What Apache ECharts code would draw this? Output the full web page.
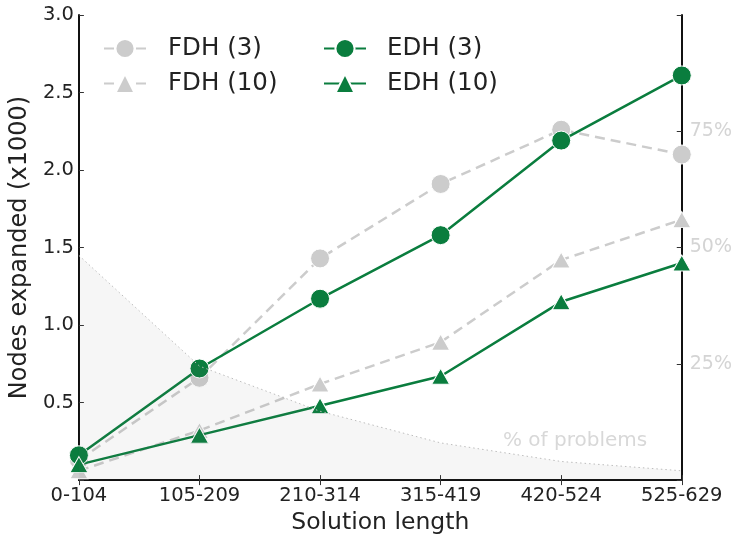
<!DOCTYPE html>
<html>
<head>
<meta charset="utf-8">
<script src="https://cdn.jsdelivr.net/npm/echarts@6/dist/echarts.min.js"></script>
<style>html,body{margin:0;padding:0;background:#fff;}#c{width:735px;height:540px;}</style>
</head>
<body>
<div id="c"></div>
<script>
const categories = ['0-104', '105-209', '210-314', '315-419', '420-524', '525-629'];
const fdh3 = [0.13, 0.66, 1.43, 1.91, 2.26, 2.10];
const fdh10 = [0.06, 0.32, 0.62, 0.89, 1.42, 1.68];
const edh3 = [0.16, 0.72, 1.17, 1.58, 2.19, 2.61];
const edh10 = [0.10, 0.29, 0.48, 0.67, 1.15, 1.40];
const pctProblems = [48.3, 24.5, 14.8, 8.0, 4.0, 2.0];
const leftTicks = ['0.5', '1.0', '1.5', '2.0', '2.5', '3.0'];
const rightTicks = ['25%', '50%', '75%'];

const FONT = 'DejaVu Sans';
const GREEN = '#0a7d3e';
const GRAY = '#cccccc';
const AX = '#111';

const chart = echarts.init(document.getElementById('c'), null, {renderer: 'canvas'});

const lineSeries = (name, data, color, dashed, symbol, size, z) => ({
  name, type: 'line', data, xAxisIndex: 0, yAxisIndex: 0,
  symbol, symbolSize: size, z,
  lineStyle: {color, width: 2.5, type: dashed ? [10, 6] : 'solid'},
  itemStyle: {color, borderColor: '#fff', borderWidth: 1},
  emphasis: {disabled: true},
  animation: false
});

const legendCommon = {
  orient: 'vertical', top: 31, itemWidth: 42, itemHeight: 24, itemGap: 10,
  selectedMode: false
};

const option = {
  animation: false,
  textStyle: {fontFamily: FONT},
  grid: {left: 78, right: 52, top: 15, bottom: 53, containLabel: false},
  legend: [
    Object.assign({}, legendCommon, {
      data: ['FDH (3)', 'FDH (10)'], left: 98,
      textStyle: {fontFamily: FONT, fontSize: 24.5, color: '#222', padding: [0, 0, 0, 17]}
    }),
    Object.assign({}, legendCommon, {
      data: ['EDH (3)', 'EDH (10)'], left: 318,
      textStyle: {fontFamily: FONT, fontSize: 24.5, color: '#222', padding: [0, 0, 0, 16]}
    })
  ],
  xAxis: [
    {
      type: 'category', data: categories, boundaryGap: false, position: 'bottom',
      name: 'Solution length', nameLocation: 'middle', nameGap: 22,
      nameTextStyle: {fontFamily: FONT, fontSize: 23.5, color: '#222'},
      axisLine: {show: true, lineStyle: {color: AX, width: 2}},
      axisTick: {show: true, inside: true, length: 5, lineStyle: {color: '#333', width: 1}},
      axisLabel: {fontFamily: FONT, fontSize: 19.5, color: '#222', margin: 6},
      splitLine: {show: false}
    },
    {
      type: 'category', data: categories, boundaryGap: false, position: 'top',
      axisLine: {show: true, lineStyle: {color: AX, width: 2}},
      axisTick: {show: true, inside: true, length: 5, lineStyle: {color: '#333', width: 1}},
      axisLabel: {show: false},
      splitLine: {show: false}
    }
  ],
  yAxis: [
    {
      type: 'value', min: 0, max: 3, interval: 0.5, position: 'left',
      name: 'Nodes expanded (x1000)', nameLocation: 'middle', nameGap: 39,
      nameTextStyle: {fontFamily: FONT, fontSize: 24, color: '#222'},
      axisLine: {show: true, lineStyle: {color: AX, width: 2}},
      axisTick: {show: true, inside: true, length: 5, lineStyle: {color: '#333', width: 1}},
      axisLabel: {
        fontFamily: FONT, fontSize: 19.5, color: '#222', margin: 5,
        formatter: v => { const s = v.toFixed(1); return leftTicks.includes(s) ? s : ''; }
      },
      splitLine: {show: false}
    },
    {
      type: 'value', min: 0, max: 100, interval: 25, position: 'right',
      axisLine: {show: true, lineStyle: {color: AX, width: 2}},
      axisTick: {show: true, inside: true, length: 5, lineStyle: {color: '#333', width: 1}},
      axisLabel: {
        fontFamily: FONT, fontSize: 19, color: '#d4d4d4', margin: 8,
        formatter: v => { const s = v + '%'; return rightTicks.includes(s) ? s : ''; }
      },
      splitLine: {show: false}
    }
  ],
  graphic: [
    {
      type: 'text', left: 503, top: 431, z: 5, silent: true,
      style: {text: '% of problems', fontFamily: FONT, fontSize: 20, fill: '#d8d8d8'}
    }
  ],
  series: [
    lineSeries('FDH (3)', fdh3, GRAY, true, 'circle', 19, 2),
    lineSeries('FDH (10)', fdh10, GRAY, true, 'triangle', [18, 16], 2),
    lineSeries('EDH (3)', edh3, GREEN, false, 'circle', 19, 3),
    lineSeries('EDH (10)', edh10, GREEN, false, 'triangle', [18, 16], 3),
    {
      name: '% of problems', type: 'line', data: pctProblems, xAxisIndex: 0, yAxisIndex: 1,
      symbol: 'none', z: 4, silent: true,
      lineStyle: {color: '#bdbdbd', width: 1, type: [1.5, 3]},
      areaStyle: {color: 'rgba(110,110,110,0.09)', origin: 'start'},
      emphasis: {disabled: true}
    }
  ]
};
chart.setOption(option);
</script>
</body>
</html>
